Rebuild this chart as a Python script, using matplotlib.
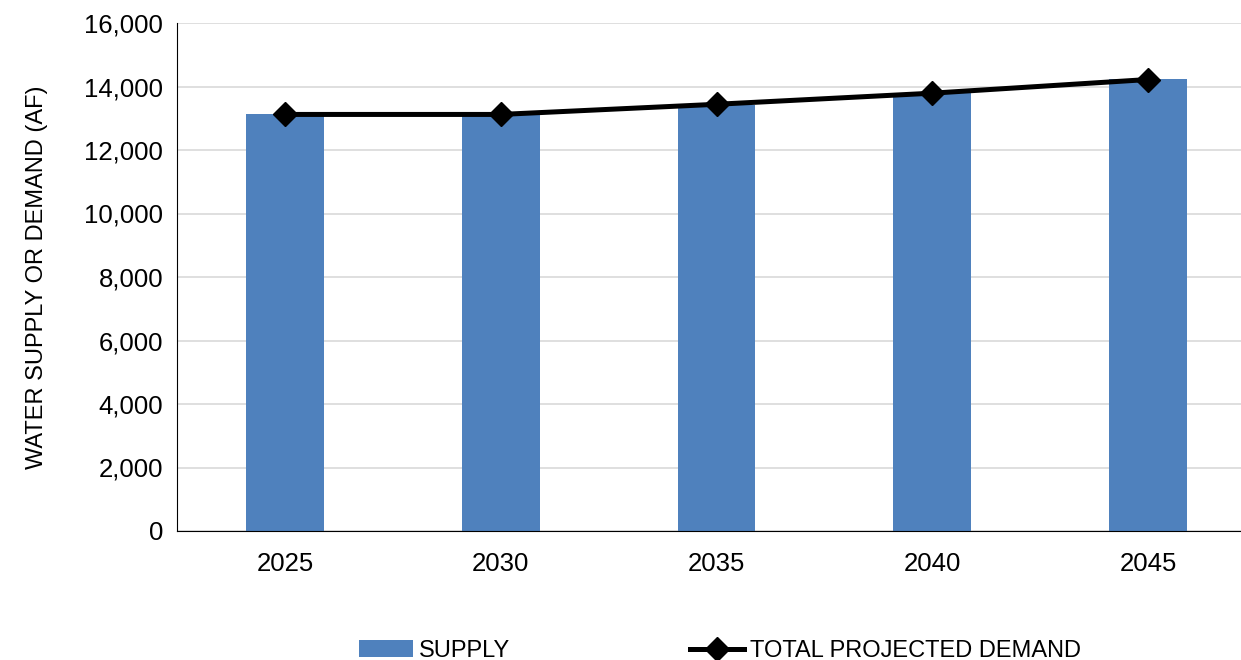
import matplotlib
matplotlib.use("Agg")
import matplotlib.pyplot as plt
from matplotlib.ticker import FuncFormatter

years = ["2025", "2030", "2035", "2040", "2045"]
supply = [13130, 13130, 13420, 13790, 14230]
demand = [13120, 13120, 13440, 13790, 14220]

plt.rcParams["font.family"] = ["Liberation Sans", "DejaVu Sans"]

fig = plt.figure(figsize=(12.41, 6.6), dpi=100)
ax = fig.add_axes([177 / 1241, 129 / 660, 1079 / 1241, 508 / 660])

x = range(len(years))
bars = ax.bar(x, supply, width=0.36, color="#4F81BD", label="SUPPLY", zorder=2)
line, = ax.plot(x, demand, color="black", lw=3.6, marker="D", ms=12,
                label="TOTAL PROJECTED DEMAND", zorder=3)

ax.set_xlim(-0.5, 4.5)
ax.set_ylim(0, 16000)
ax.set_yticks(range(0, 16001, 2000))
ax.yaxis.set_major_formatter(FuncFormatter(lambda v, p: f"{int(v):,}"))
ax.set_xticks(list(x))
ax.set_xticklabels(years)
ax.tick_params(axis="both", labelsize=18.5, length=0, colors="black")
ax.tick_params(axis="x", pad=15)
ax.tick_params(axis="y", pad=10)
ax.grid(axis="y", color="#D9D9D9", lw=1.2, zorder=0)
for s in ["top", "right"]:
    ax.spines[s].set_visible(False)
ax.spines["left"].set_color("black")
ax.spines["bottom"].set_color("black")

ax.set_ylabel("WATER SUPPLY OR DEMAND (AF)", fontsize=17, labelpad=26)

fig.legend([bars, line], ["SUPPLY", "TOTAL PROJECTED DEMAND"],
           loc="center", bbox_to_anchor=(720 / 1241, 9 / 660), ncol=2,
           frameon=False, fontsize=17, handlelength=2.3, columnspacing=7.6,
           handletextpad=0.25)

fig.savefig("out.png", dpi=100)
